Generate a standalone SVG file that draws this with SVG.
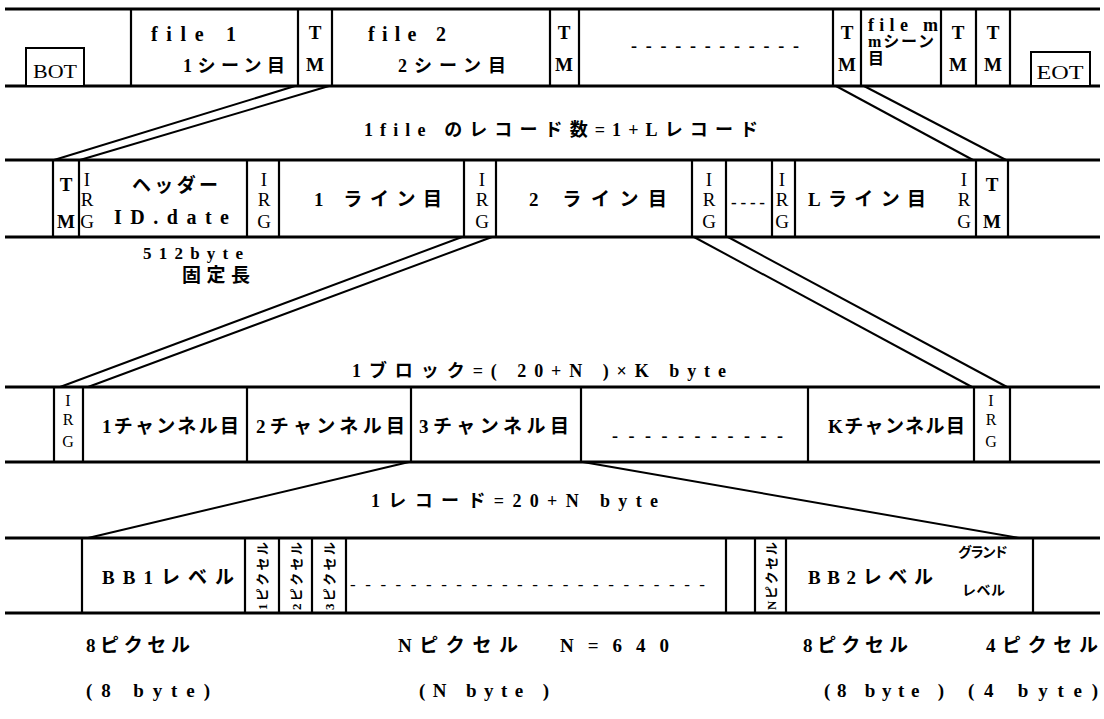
<svg xmlns="http://www.w3.org/2000/svg" width="1104" height="719" viewBox="0 0 1104 719">
<style>
.rail{stroke:#000;stroke-width:3;fill:none}
.div{stroke:#000;stroke-width:2.2;fill:none}
.con{stroke:#000;stroke-width:2;fill:none}
.box{stroke:#000;stroke-width:2;fill:#fff}
text{font-family:"Liberation Serif","Noto Sans CJK JP",serif;fill:#000;font-weight:bold}
.t{font-size:20px}
.tm{font-size:19px;text-anchor:middle}
.irg{font-size:19px;text-anchor:middle;font-weight:normal}
.irs{font-size:16px;text-anchor:middle;font-weight:normal}
.lab{font-size:18px}
.jp{font-size:19px}
.sm{font-size:14px}
.rot{font-size:13px}
</style>
<rect width="1104" height="719" fill="#fff"/>
<g id="connectors">
<line class="con" x1="295" y1="86" x2="54" y2="160"/>
<line class="con" x1="329" y1="86" x2="80" y2="160"/>
<line class="con" x1="836" y1="86" x2="973" y2="160"/>
<line class="con" x1="864" y1="86" x2="1006" y2="160"/>
<line class="con" x1="462" y1="237" x2="60" y2="387"/>
<line class="con" x1="492" y1="237" x2="88" y2="387"/>
<line class="con" x1="694" y1="237" x2="972" y2="387"/>
<line class="con" x1="728" y1="237" x2="1007" y2="387"/>
<line class="con" x1="409" y1="462" x2="88" y2="538"/>
<line class="con" x1="583" y1="462" x2="1019" y2="538"/>
</g>
<g id="row1">
<line class="rail" x1="5" y1="9" x2="1100" y2="9"/>
<line class="rail" x1="5" y1="86" x2="1100" y2="86"/>
<path class="div" d="M131 9V86M298 9V86M332 9V86M550 9V86M579 9V86M833 9V86M861 9V86M941 9V86M976 9V86M1010 9V86"/>
<rect class="box" x="26" y="48" width="58" height="38"/>
<text x="55" y="78" style="font-size:19px;font-weight:normal" text-anchor="middle" textLength="44" lengthAdjust="spacingAndGlyphs">BOT</text>
<text class="t" x="151" y="41" textLength="85">file 1</text>
<text class="jp" x="183" y="72" style="font-size:18px" textLength="102">1シーン目</text>
<text class="tm" x="315" y="39">T</text><text class="tm" x="315" y="71">M</text>
<text class="t" x="368" y="41" textLength="78">file 2</text>
<text class="jp" x="398" y="72" style="font-size:18px" textLength="108">2シーン目</text>
<text class="tm" x="564" y="39">T</text><text class="tm" x="564" y="71">M</text>
<text x="631" y="52" style="font-size:18px" textLength="168">------------</text>
<text class="tm" x="847" y="39">T</text><text class="tm" x="847" y="71">M</text>
<text x="868" y="31" style="font-size:18px" textLength="70">file m</text>
<text x="868" y="47" style="font-size:16px" textLength="66">mシーン</text>
<text x="868" y="64" style="font-size:16px">目</text>
<text class="tm" x="958" y="39">T</text><text class="tm" x="958" y="71">M</text>
<text class="tm" x="993" y="39">T</text><text class="tm" x="993" y="71">M</text>
<rect class="box" x="1031" y="52" width="59" height="34"/>
<text x="1060" y="79" style="font-size:19px;font-weight:normal" text-anchor="middle" textLength="47" lengthAdjust="spacingAndGlyphs">EOT</text>
</g>
<g id="label1">
<text class="lab" x="364" y="136" textLength="394">1file のレコード数=1+Lレコード</text>
</g>
<g id="row2">
<line class="rail" x1="5" y1="160" x2="1100" y2="160"/>
<line class="rail" x1="5" y1="237" x2="1100" y2="237"/>
<path class="div" d="M53 160V237M79 160V237M247 160V237M279 160V237M464 160V237M496 160V237M692 160V237M726 160V237M772 160V237M795 160V237M976 160V237M1008 160V237"/>
<text class="tm" x="66" y="191">T</text><text class="tm" x="66" y="228">M</text>
<text class="irg" x="87" y="186">I</text><text class="irg" x="87" y="206">R</text><text class="irg" x="87" y="228">G</text>
<text class="jp" x="132" y="192" textLength="86">ヘッダー</text>
<text class="t" x="114" y="224" textLength="115">ID.date</text>
<text class="irg" x="264" y="186">I</text><text class="irg" x="264" y="206">R</text><text class="irg" x="264" y="228">G</text>
<text class="jp" x="314" y="206" textLength="128">1 ライン目</text>
<text class="irg" x="482" y="186">I</text><text class="irg" x="482" y="206">R</text><text class="irg" x="482" y="228">G</text>
<text class="jp" x="529" y="206" textLength="138">2 ライン目</text>
<text class="irg" x="709" y="186">I</text><text class="irg" x="709" y="206">R</text><text class="irg" x="709" y="228">G</text>
<text x="731" y="208" style="font-size:17px" textLength="34">----</text>
<text class="irg" x="782" y="186">I</text><text class="irg" x="782" y="206">R</text><text class="irg" x="782" y="228">G</text>
<text class="jp" x="808" y="206" textLength="118">Lライン目</text>
<text class="irg" x="964" y="186">I</text><text class="irg" x="964" y="206">R</text><text class="irg" x="964" y="228">G</text>
<text class="tm" x="992" y="191">T</text><text class="tm" x="992" y="228">M</text>
<text x="143" y="259" style="font-size:17px" textLength="100">512byte</text>
<text x="182" y="282" style="font-size:19px" textLength="68">固定長</text>
</g>
<g id="label2">
<text class="lab" x="352" y="377" textLength="374">1ブロック=( 20+N )×K byte</text>
</g>
<g id="row3">
<line class="rail" x1="5" y1="387" x2="1100" y2="387"/>
<line class="rail" x1="5" y1="462" x2="1100" y2="462"/>
<path class="div" d="M54 387V462M83 387V462M247 387V462M411 387V462M581 387V462M808 387V462M974 387V462M1010 387V462"/>
<text class="irs" x="68" y="406">I</text><text class="irs" x="68" y="425">R</text><text class="irs" x="68" y="447">G</text>
<text class="jp" x="102" y="433" textLength="137">1チャンネル目</text>
<text class="jp" x="256" y="433" textLength="149">2チャンネル目</text>
<text class="jp" x="419" y="433" textLength="150">3チャンネル目</text>
<text x="612" y="442" style="font-size:18px" textLength="171">-----------</text>
<text class="jp" x="828" y="433" textLength="137">Kチャンネル目</text>
<text class="irs" x="991" y="406">I</text><text class="irs" x="991" y="425">R</text><text class="irs" x="991" y="447">G</text>
</g>
<g id="label3">
<text class="lab" x="371" y="507" textLength="287">1レコード=20+N byte</text>
</g>
<g id="row4">
<line class="rail" x1="5" y1="538" x2="1100" y2="538"/>
<line class="rail" x1="5" y1="613" x2="1100" y2="613"/>
<path class="div" d="M82 538V613M245 538V613M279 538V613M312 538V613M346 538V613M726 538V613M755 538V613M786 538V613M1033 538V613"/>
<text class="jp" x="102" y="584" textLength="132">BB1レベル</text>
<text class="rot" transform="translate(267 610) rotate(-90)" textLength="68">1ピクセル</text>
<text class="rot" transform="translate(301 610) rotate(-90)" textLength="68">2ピクセル</text>
<text class="rot" transform="translate(334 610) rotate(-90)" textLength="68">3ピクセル</text>
<text x="350" y="590" style="font-size:17px;font-weight:normal" textLength="355">------------------------</text>
<text class="rot" transform="translate(776 610) rotate(-90)" textLength="68">Nピクセル</text>
<text class="jp" x="808" y="584" textLength="125">BB2レベル</text>
<text class="sm" x="958" y="557" textLength="50">グランド</text>
<text class="sm" x="962" y="595" textLength="43">レベル</text>
</g>
<g id="bottom">
<text class="jp" x="86" y="652" textLength="104">8ピクセル</text>
<text class="jp" x="398" y="652" textLength="120">Nピクセル</text>
<text class="jp" x="560" y="652" textLength="109">N=640</text>
<text class="jp" x="803" y="652" textLength="105">8ピクセル</text>
<text class="jp" x="986" y="652" textLength="112">4ピクセル</text>
<text class="jp" x="86" y="697" textLength="124">(8 byte)</text>
<text class="jp" x="419" y="697" textLength="130">(N byte )</text>
<text class="jp" x="824" y="697" textLength="120">(8 byte )</text>
<text class="jp" x="968" y="697" textLength="130">(4 byte)</text>
</g>
</svg>
